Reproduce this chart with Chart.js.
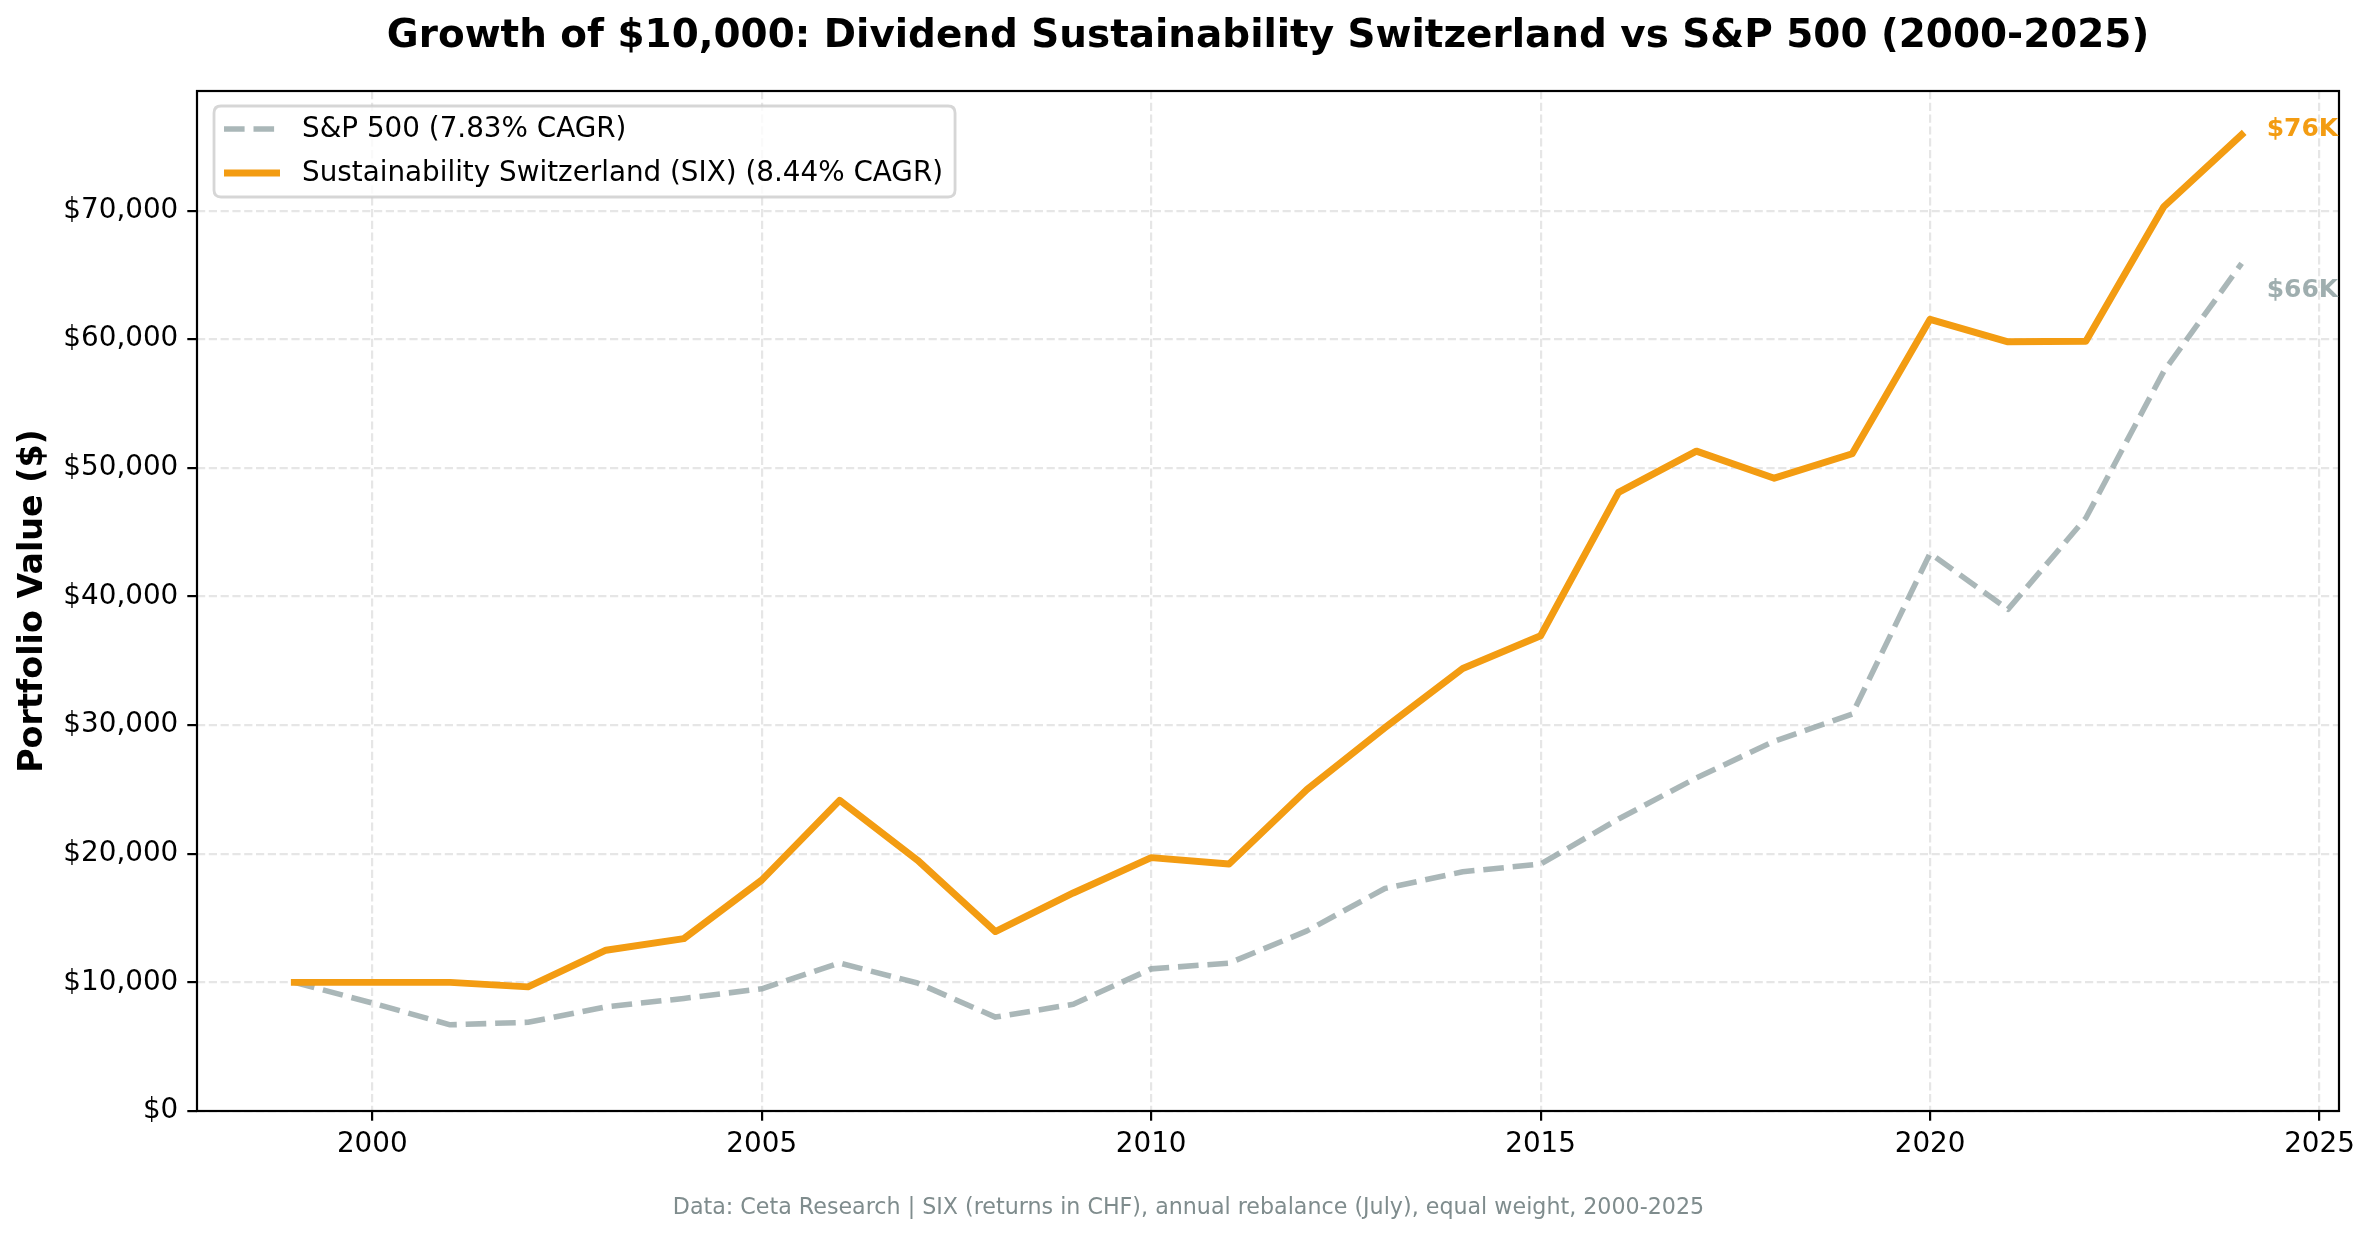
<!DOCTYPE html>
<html>
<head>
<meta charset="utf-8">
<script src="https://cdn.jsdelivr.net/npm/chart.js@4.4.1/dist/chart.umd.min.js"></script>
<style>
  html, body { margin: 0; padding: 0; background: #ffffff; }
  #wrap { width: 2377px; height: 1239px; }
</style>
</head>
<body>
<div id="wrap"><canvas id="c" width="2377" height="1239"></canvas></div>
<script>
// ---- data ----
const years = [1999, 2000, 2001, 2002, 2003, 2004, 2005, 2006, 2007, 2008, 2009, 2010, 2011, 2012, 2013, 2014, 2015, 2016, 2017, 2018, 2019, 2020, 2021, 2022, 2023, 2024];
const sixValues = [10000, 10000, 10000, 9650, 12500, 13400, 17950, 24150, 19500, 13950, 16950, 19700, 19200, 25000, 29800, 34400, 36950, 48100, 51300, 49200, 51100, 61550, 59800, 59850, 70300, 75900];
const spValues = [10000, 8400, 6700, 6900, 8100, 8750, 9500, 11500, 9950, 7300, 8300, 11050, 11500, 14000, 17300, 18600, 19200, 22700, 25900, 28750, 30850, 43350, 39000, 46100, 57500, 65900];
const seriesNames = ['S&P 500 (7.83% CAGR)', 'Sustainability Switzerland (SIX) (8.44% CAGR)'];
const endLabels = ['$66K', '$76K'];
const xTicks = [2000, 2005, 2010, 2015, 2020, 2025];
const yTicks = [0, 10000, 20000, 30000, 40000, 50000, 60000, 70000];
const titleText = 'Growth of $10,000: Dividend Sustainability Switzerland vs S&P 500 (2000-2025)';
const yAxisTitle = 'Portfolio Value ($)';
const footerText = 'Data: Ceta Research | SIX (returns in CHF), annual rebalance (July), equal weight, 2000-2025';

// ---- styles ----
const ORANGE = '#f39c12';
const GRAY = 'rgba(149,165,166,0.8)';
const GRAY_TEXT = 'rgba(149,165,166,0.9)';
const FONT = '"DejaVu Sans", "Liberation Sans", sans-serif';

const toPoints = vals => years.map((y, i) => ({ x: y, y: vals[i] }));

const overlayPlugin = {
  id: 'overlay',
  afterDatasetsDraw(chart) {
    const ctx = chart.ctx;
    const a = chart.chartArea;
    const xs = chart.scales.x, ys = chart.scales.y;
    ctx.save();
    // axes box
    ctx.strokeStyle = '#000';
    ctx.lineWidth = 2.2;
    ctx.setLineDash([]);
    ctx.strokeRect(a.left, a.top, a.right - a.left, a.bottom - a.top);

    // end labels
    ctx.font = 'bold 25px ' + FONT;
    ctx.textAlign = 'left';
    ctx.textBaseline = 'middle';
    const lastIdx = years.length - 1;
    const lx = xs.getPixelForValue(years[lastIdx]) + 25;
    ctx.fillStyle = ORANGE;
    ctx.fillText(endLabels[1], lx, ys.getPixelForValue(sixValues[lastIdx]) - 5);
    ctx.fillStyle = GRAY_TEXT;
    ctx.fillText(endLabels[0], lx, ys.getPixelForValue(spValues[lastIdx]) + 27);
    ctx.restore();
  },
  afterDraw(chart) {
    const ctx = chart.ctx;
    const a = chart.chartArea;
    ctx.save();
    // title
    ctx.fillStyle = '#000';
    ctx.font = 'bold 38.9px ' + FONT;
    ctx.textAlign = 'center';
    ctx.textBaseline = 'middle';
    ctx.fillText(titleText, (a.left + a.right) / 2, 37);

    // footer
    ctx.font = '22.2px ' + FONT;
    ctx.fillStyle = '#7f8c8d';
    ctx.fillText(footerText, chart.width / 2, 1208);

    // legend
    ctx.font = '27.8px ' + FONT;
    const bx = 214, by = 106;
    const textX = 302;
    const w = Math.max(...seriesNames.map(s => ctx.measureText(s).width));
    const bw = textX - bx + w + 12;
    const bh = 91;
    const r = 7;
    ctx.beginPath();
    ctx.moveTo(bx + r, by);
    ctx.lineTo(bx + bw - r, by);
    ctx.quadraticCurveTo(bx + bw, by, bx + bw, by + r);
    ctx.lineTo(bx + bw, by + bh - r);
    ctx.quadraticCurveTo(bx + bw, by + bh, bx + bw - r, by + bh);
    ctx.lineTo(bx + r, by + bh);
    ctx.quadraticCurveTo(bx, by + bh, bx, by + bh - r);
    ctx.lineTo(bx, by + r);
    ctx.quadraticCurveTo(bx, by, bx + r, by);
    ctx.closePath();
    ctx.fillStyle = 'rgba(255,255,255,0.8)';
    ctx.fill();
    ctx.strokeStyle = 'rgba(204,204,204,0.8)';
    ctx.lineWidth = 2.8;
    ctx.stroke();

    const rows = [by + 23, by + 67];
    // S&P handle
    ctx.lineWidth = 5.56;
    ctx.strokeStyle = GRAY;
    ctx.setLineDash([20.6, 8.9]);
    ctx.lineCap = 'butt';
    ctx.beginPath();
    ctx.moveTo(224, rows[0]);
    ctx.lineTo(280, rows[0]);
    ctx.stroke();
    // SIX handle
    ctx.setLineDash([]);
    ctx.lineWidth = 6.94;
    ctx.strokeStyle = ORANGE;
    ctx.beginPath();
    ctx.moveTo(224, rows[1]);
    ctx.lineTo(280, rows[1]);
    ctx.stroke();

    ctx.fillStyle = '#000';
    ctx.textAlign = 'left';
    ctx.textBaseline = 'middle';
    ctx.fillText(seriesNames[0], textX, rows[0] + 1);
    ctx.fillText(seriesNames[1], textX, rows[1] + 1);
    ctx.restore();
  }
};

const ctx = document.getElementById('c').getContext('2d');
new Chart(ctx, {
  type: 'line',
  data: {
    datasets: [
      {
        label: seriesNames[1],
        data: toPoints(sixValues),
        borderColor: ORANGE,
        borderWidth: 6.94,
        borderCapStyle: 'square',
        borderJoinStyle: 'round',
        pointRadius: 0,
        tension: 0,
        fill: false,
        order: 0
      },
      {
        label: seriesNames[0],
        data: toPoints(spValues),
        borderColor: GRAY,
        borderWidth: 5.56,
        borderDash: [20.6, 8.9],
        borderCapStyle: 'butt',
        borderJoinStyle: 'round',
        pointRadius: 0,
        tension: 0,
        fill: false,
        order: 1
      }
    ]
  },
  options: {
    responsive: false,
    animation: false,
    devicePixelRatio: 1,
    layout: { padding: { top: 91, right: 38, left: 0, bottom: 0 } },
    plugins: {
      legend: { display: false },
      title: { display: false },
      tooltip: { enabled: false }
    },
    scales: {
      x: {
        type: 'linear',
        min: 1997.75,
        max: 2025.25,
        afterBuildTicks: s => { s.ticks = xTicks.map(v => ({ value: v })); },
        afterFit: s => { s.height = 128; },
        ticks: {
          callback: v => String(v),
          color: '#000',
          font: { family: FONT, size: 27.8 },
          padding: 7,
          maxRotation: 0,
          autoSkip: false
        },
        grid: {
          color: '#e6e6e6',
          lineWidth: 2.2,
          tickColor: '#000',
          tickLength: 9.7,
          tickWidth: 2.2,
          tickBorderDash: []
        },
        border: { display: false, dash: [8.2, 3.6] }
      },
      y: {
        type: 'linear',
        min: 0,
        max: 79300,
        afterBuildTicks: s => { s.ticks = yTicks.map(v => ({ value: v })); },
        afterFit: s => { s.width = 197; },
        title: {
          display: true,
          text: yAxisTitle,
          color: '#000',
          font: { family: FONT, size: 33.3, weight: 'bold' },
          padding: { top: 13, bottom: 0 }
        },
        ticks: {
          callback: v => '$' + Number(v).toLocaleString('en-US'),
          color: '#000',
          font: { family: FONT, size: 27.8 },
          padding: 9
        },
        grid: {
          color: '#e6e6e6',
          lineWidth: 2.2,
          tickColor: '#000',
          tickLength: 9.7,
          tickWidth: 2.2,
          tickBorderDash: []
        },
        border: { display: false, dash: [8.2, 3.6] }
      }
    }
  },
  plugins: [overlayPlugin]
});
</script>
</body>
</html>
